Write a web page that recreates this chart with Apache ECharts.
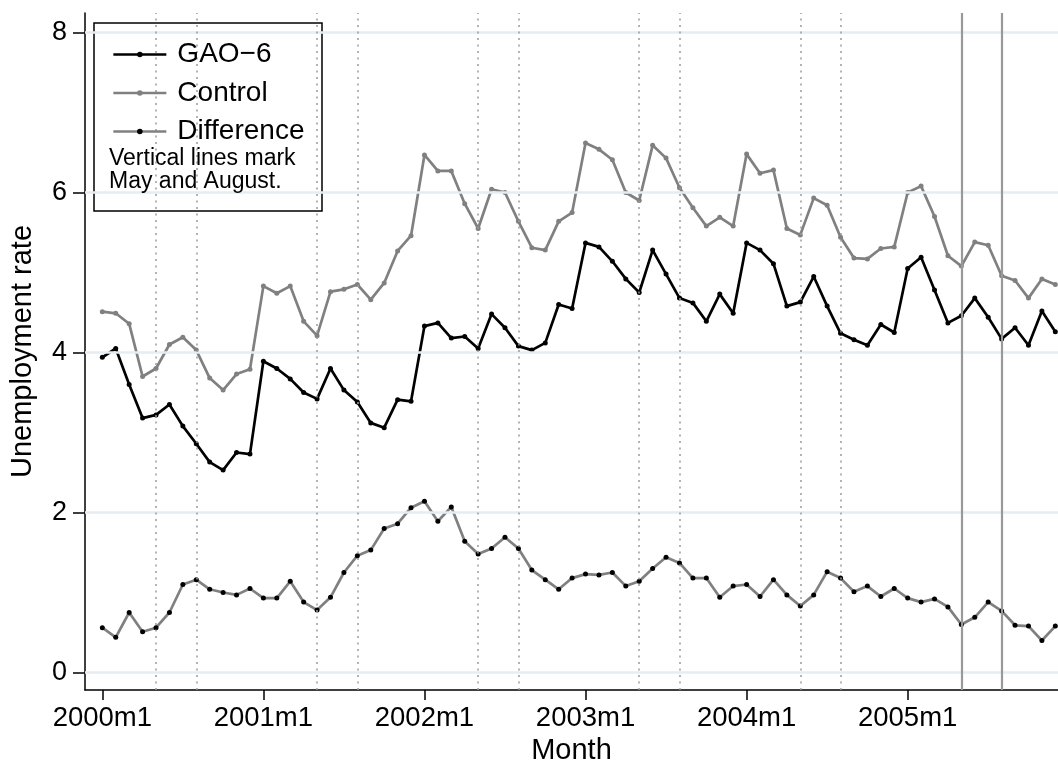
<!DOCTYPE html>
<html>
<head>
<meta charset="utf-8">
<title>Unemployment rate</title>
<script src="https://cdn.jsdelivr.net/npm/echarts@6.0.0/dist/echarts.min.js"></script>
<style>
  html, body { margin: 0; padding: 0; background: #fff; }
  #chart { width: 1058px; height: 762px; }
</style>
</head>
<body>
<div id="chart"></div>
<script>
// x-axis ticks (month index from 2000m1) and their labels
const tickMonths = [0, 12, 24, 36, 48, 60];
const tickLabels = ['2000m1', '2001m1', '2002m1', '2003m1', '2004m1', '2005m1'];
const yTicks = [0, 2, 4, 6, 8];

// May / August markers
const dottedMonths = [4, 7, 16, 19, 28, 31, 40, 43, 52, 55];
const solidMonths = [64, 67];

// monthly series, 2000m1 .. 2005m12
const gao6 = [
    3.94, 4.05, 3.60, 3.18, 3.22, 3.35, 3.08, 2.86, 2.63, 2.53, 2.75, 2.73,
    3.89, 3.80, 3.67, 3.50, 3.42, 3.80, 3.53, 3.38, 3.12, 3.06, 3.41, 3.39,
    4.33, 4.37, 4.18, 4.20, 4.05, 4.48, 4.31, 4.08, 4.03, 4.12, 4.60, 4.55,
    5.37, 5.32, 5.14, 4.92, 4.75, 5.28, 4.98, 4.68, 4.62, 4.39, 4.73, 4.49,
    5.37, 5.28, 5.11, 4.58, 4.63, 4.95, 4.58, 4.24, 4.16, 4.09, 4.35, 4.25,
    5.05, 5.19, 4.78, 4.37, 4.46, 4.68, 4.44, 4.17, 4.31, 4.09, 4.52, 4.26
];
const control = [
    4.51, 4.49, 4.36, 3.70, 3.80, 4.10, 4.19, 4.03, 3.68, 3.53, 3.73, 3.79,
    4.83, 4.74, 4.83, 4.39, 4.21, 4.76, 4.79, 4.85, 4.66, 4.87, 5.27, 5.46,
    6.47, 6.27, 6.27, 5.86, 5.55, 6.04, 6.00, 5.64, 5.31, 5.28, 5.64, 5.75,
    6.62, 6.54, 6.41, 6.00, 5.90, 6.59, 6.43, 6.06, 5.81, 5.58, 5.69, 5.58,
    6.48, 6.24, 6.28, 5.55, 5.47, 5.93, 5.84, 5.44, 5.18, 5.17, 5.30, 5.32,
    6.00, 6.08, 5.70, 5.21, 5.08, 5.38, 5.34, 4.96, 4.90, 4.68, 4.92, 4.85
];
const difference = [
    0.56, 0.44, 0.75, 0.51, 0.56, 0.75, 1.10, 1.16, 1.04, 1.00, 0.97, 1.05,
    0.93, 0.93, 1.14, 0.88, 0.78, 0.94, 1.25, 1.46, 1.53, 1.80, 1.86, 2.06,
    2.14, 1.89, 2.07, 1.64, 1.48, 1.55, 1.69, 1.55, 1.28, 1.16, 1.04, 1.18,
    1.23, 1.22, 1.25, 1.08, 1.14, 1.30, 1.44, 1.37, 1.18, 1.18, 0.94, 1.08,
    1.10, 0.95, 1.16, 0.97, 0.83, 0.97, 1.26, 1.18, 1.01, 1.08, 0.95, 1.05,
    0.93, 0.88, 0.92, 0.82, 0.60, 0.69, 0.88, 0.77, 0.59, 0.58, 0.40, 0.58
];

const FONT = '"Liberation Sans", Arial, sans-serif';
const GRAY = '#808080';

const chart = echarts.init(document.getElementById('chart'));

// pair values with month index
function toPoints(arr) {
    return arr.map((v, i) => [i, v]);
}

function lineSeries(name, data, lineColor, dotColor) {
    return {
        name: name,
        type: 'line',
        data: toPoints(data),
        symbol: 'circle',
        symbolSize: 5,
        showSymbol: true,
        z: 3,
        lineStyle: { color: lineColor, width: 2.7 },
        itemStyle: { color: dotColor },
        emphasis: { disabled: true },
        animation: false
    };
}

const option = {
    animation: false,
    textStyle: { fontFamily: FONT },
    grid: { left: 85, right: 0, top: 13, bottom: 72, outerBoundsMode: 'none', containLabel: false },
    xAxis: {
        type: 'value',
        min: -1.29,
        max: 71.2,
        name: 'Month',
        nameLocation: 'middle',
        nameGap: 42,
        nameTextStyle: { fontSize: 29, color: '#000', fontFamily: FONT },
        axisLine: { show: true, onZero: false, lineStyle: { color: '#000', width: 1.5 } },
        axisTick: { show: true, customValues: tickMonths, length: 10, lineStyle: { color: '#000', width: 1.5 } },
        axisLabel: {
            customValues: tickMonths,
            formatter: v => tickLabels[tickMonths.indexOf(v)] || '',
            fontSize: 27.5,
            color: '#000',
            margin: 14,
            fontFamily: FONT
        },
        splitLine: { show: false }
    },
    yAxis: {
        type: 'value',
        min: -0.219,
        max: 8.244,
        name: 'Unemployment rate',
        nameLocation: 'middle',
        nameGap: 48,
        nameTextStyle: { fontSize: 29, color: '#000', fontFamily: FONT },
        axisLine: { show: true, onZero: false, lineStyle: { color: '#000', width: 1.5 } },
        axisTick: { show: true, customValues: yTicks, length: 12, lineStyle: { color: '#000', width: 1.5 } },
        axisLabel: {
            customValues: yTicks,
            fontSize: 27,
            color: '#000',
            margin: 18,
            fontFamily: FONT
        },
        splitLine: { show: false }
    },
    legend: {
        orient: 'vertical',
        left: 107,
        top: 34,
        itemWidth: 53,
        itemHeight: 7,
        itemGap: 7.5,
        selectedMode: false,
        z: 6,
        lineStyle: { width: 2.7 },
        textStyle: { fontSize: 28, color: '#000', fontFamily: FONT, lineHeight: 31, padding: [0, 0, 0, 6] },
        data: ['GAO\u22126', 'Control', 'Difference']
    },
    graphic: [
        {
            type: 'rect',
            z: 5,
            shape: { x: 94, y: 23, width: 228, height: 188 },
            style: { fill: '#fff', stroke: '#000', lineWidth: 1.5 }
        },
        {
            type: 'text',
            z: 6,
            x: 109,
            y: 147,
            style: {
                text: 'Vertical lines mark\nMay and August.',
                fontSize: 23,
                lineHeight: 23,
                fill: '#000',
                fontFamily: FONT
            }
        }
    ],
    series: [
        // background: grid lines and month markers
        {
            name: 'guides',
            type: 'line',
            data: [],
            z: 1,
            silent: true,
            markLine: {
                silent: true,
                symbol: 'none',
                label: { show: false },
                animation: false,
                data: [
                    ...yTicks.map(v => ({ yAxis: v, lineStyle: { color: '#e6edf0', width: 2.5, type: 'solid' } })),
                    ...dottedMonths.map(m => ({ xAxis: m, lineStyle: { color: '#9a9a9a', width: 1.5, type: [2, 4.5] } })),
                    ...solidMonths.map(m => ({ xAxis: m, lineStyle: { color: '#999999', width: 2.2, type: 'solid' } }))
                ]
            }
        },
        lineSeries('GAO\u22126', gao6, '#000', '#000'),
        lineSeries('Control', control, GRAY, GRAY),
        lineSeries('Difference', difference, GRAY, '#000')
    ]
};

chart.setOption(option);
</script>
</body>
</html>
